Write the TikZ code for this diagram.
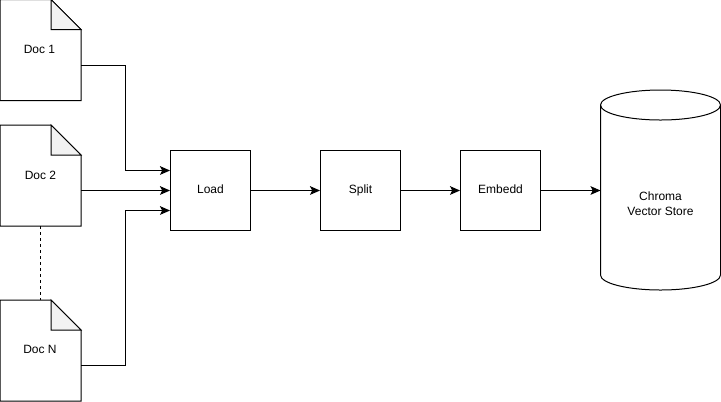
\documentclass[tikz,border=0pt]{standalone}
\usepackage{fontspec}
\setmainfont{Liberation Sans}
\usetikzlibrary{arrows.meta,calc}
\definecolor{foldfill}{HTML}{F2F2F2}
\tikzset{
  x=0.75pt,y=-0.75pt,
  every path/.style={line width=0.75pt},
  label text/.style={font=\fontsize{9}{11.25}\selectfont,align=center,inner sep=0pt},
  doc/.style={label text,minimum width=60pt,minimum height=75pt,draw=none},
  procbox/.style={font=\fontsize{9}{11.25}\selectfont,inner sep=0pt,text height=6.6pt,text depth=2pt,draw=black,line width=0.75pt,minimum width=60pt,minimum height=60pt},
  flow/.style={draw=black,-{Stealth[length=7.5pt,width=6.5pt,inset=1.6pt]}},
  dotted link/.style={draw=black,dash pattern=on 2.25pt off 2.25pt}
}
\newcommand{\docshape}[1]{%
  \draw[fill=white] (#1.north west) -- ($(#1.north east)+(-30,0)$) -- ($(#1.north east)+(0,30)$) -- (#1.south east) -- (#1.south west) -- cycle;
  \draw[fill=foldfill] ($(#1.north east)+(-30,0)$) -- ($(#1.north east)+(0,30)$) -- ($(#1.north east)+(-30,30)$) -- cycle;
}
\begin{document}
\begin{tikzpicture}
\useasboundingbox (0,0) rectangle (721,401);
\node[doc] (doc1) at (40.5,50) {};
\node[doc] (doc2) at (40.5,175.5) {};
\node[doc] (docN) at (40.5,350.5) {};
\docshape{doc1}
\docshape{doc2}
\docshape{docN}
\node[label text] (t1) at (39.5,49.5) {Doc 1};
\node[label text] (t2) at (40.5,175.5) {Doc 2};
\node[label text] (tN) at (40,349.5) {Doc N};
\node[procbox] (load) at (210.5,190.5) {Load};
\node[procbox] (split) at (360.5,190.5) {Split};
\node[procbox] (embedd) at (500.5,190.5) {Embedd};
% cylinder
\draw[fill=white] (600.5,105) arc[start angle=180,end angle=360,x radius=60,y radius=15]
  arc[start angle=0,end angle=180,x radius=60,y radius=15];
\draw (600.5,105) -- (600.5,275) arc[start angle=180,end angle=360,x radius=60,y radius=-15] -- (720.5,105);
\node[label text] (store) at (660.5,204) {Chroma\hspace{3pt}\\[0pt]Vector Store};
\coordinate (storein) at (600.5,190.5);
% connectors
\draw[flow] ($(doc1.east)+(0,15)$) -| (125.5,170.5) -- ($(load.west)+(0,-20)$);
\draw[flow] (doc2.east |- load.west) -- (load.west);
\draw[flow] ($(docN.east)+(0,15)$) -| (125.5,210.5) -- ($(load.west)+(0,20)$);
\draw[flow] (load) -- (split);
\draw[flow] (split) -- (embedd);
\draw[flow] (embedd) -- (storein);
\draw[dotted link] (doc2.south) -- (docN.north);
\end{tikzpicture}
\end{document}
